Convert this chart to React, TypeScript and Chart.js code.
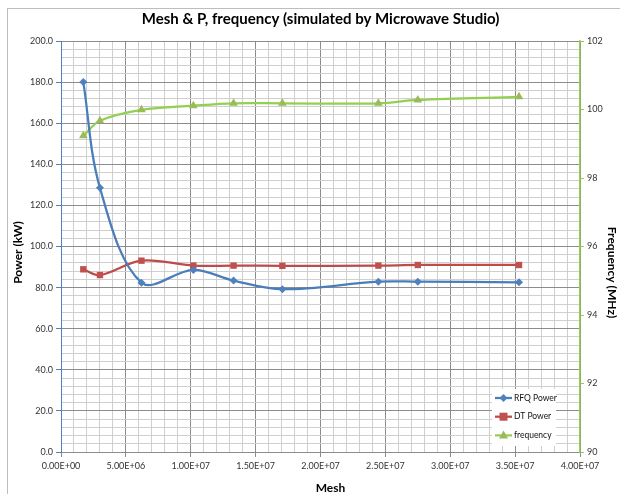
import { useEffect, useRef } from "react";
import { Chart, registerables } from "chart.js";

Chart.register(...registerables);

const TITLE = "Mesh & P, frequency (simulated by Microwave Studio)";
const X_TITLE = "Mesh";
const Y_TITLE = "Power (kW)";
const Y2_TITLE = "Frequency (MHz)";

const mesh = [1.72e6, 3.0e6, 6.2e6, 10.2e6, 13.3e6, 17.06e6, 24.46e6, 27.5e6, 35.3e6];
const rfqPower = [180, 128.6, 82.4, 88.6, 83.4, 79.2, 82.9, 82.9, 82.6];
const dtPower = [88.9, 86.1, 93.1, 90.7, 90.7, 90.6, 90.7, 91.0, 91.0];
const frequency = [99.23, 99.67, 99.99, 100.11, 100.18, 100.18, 100.18, 100.28, 100.37];

const seriesNames = ["RFQ Power", "DT Power", "frequency"];

const FONT = "Lato, 'Open Sans', sans-serif";
const MAJOR = "#8C8C8C";
const MINOR = "#CFCFCF";
const BLUE = "#4A7EBB";
const BLUE_M = "#4F81BD";
const RED = "#BE4B48";
const RED_M = "#C0504D";
const GREEN = "#92D050";
const GREEN_M = "#9BBB59";

function fmtE(v: number): string {
  const r = Math.round(v);
  if (r === 0) return "0.00E+00";
  const e = Math.floor(Math.log10(r) + 1e-9);
  const m = r / Math.pow(10, e);
  return m.toFixed(2) + "E+" + String(e).padStart(2, "0");
}

function drawMarker(ctx: CanvasRenderingContext2D, kind: string, x: number, y: number, color: string) {
  ctx.fillStyle = color;
  ctx.beginPath();
  if (kind === "diamond") {
    const r = 4;
    ctx.moveTo(x, y - r);
    ctx.lineTo(x + r, y);
    ctx.lineTo(x, y + r);
    ctx.lineTo(x - r, y);
  } else if (kind === "square") {
    ctx.rect(x - 4, y - 4, 8, 8);
  } else {
    const r = 5;
    ctx.moveTo(x, y - r);
    ctx.lineTo(x + r * 0.9, y + r * 0.6);
    ctx.lineTo(x - r * 0.9, y + r * 0.6);
  }
  ctx.closePath();
  ctx.fill();
}

const decor = {
  id: "decor",
  afterDatasetsDraw(chart: any) {
    const ctx: CanvasRenderingContext2D = chart.ctx;
    const a = chart.chartArea;
    ctx.save();
    const bx = a.right - 88;
    const by = a.bottom - 63;
    ctx.fillStyle = "#FFFFFF";
    ctx.fillRect(bx, by, 64, 57);
    const items = [
      { name: seriesNames[0], line: BLUE, mk: BLUE_M, kind: "diamond" },
      { name: seriesNames[1], line: RED, mk: RED_M, kind: "square" },
      { name: seriesNames[2], line: GREEN, mk: GREEN_M, kind: "triangle" },
    ];
    ctx.font = `8.5px ${FONT}`;
    ctx.textBaseline = "middle";
    ctx.textAlign = "left";
    items.forEach((it, i) => {
      const y = by + 9 + i * 18.7;
      ctx.strokeStyle = it.line;
      ctx.lineWidth = 2.25;
      ctx.beginPath();
      ctx.moveTo(bx + 3, y);
      ctx.lineTo(bx + 20, y);
      ctx.stroke();
      drawMarker(ctx, it.kind, bx + 11.5, y, it.mk);
      ctx.fillStyle = "#111";
      ctx.fillText(it.name, bx + 22, y);
    });
    ctx.restore();
  },
  afterDraw(chart: any) {
    const ctx: CanvasRenderingContext2D = chart.ctx;
    const a = chart.chartArea;
    ctx.save();
    ctx.fillStyle = "#000";
    ctx.textAlign = "center";
    ctx.textBaseline = "middle";
    ctx.font = `bold 15px ${FONT}`;
    ctx.fillText(TITLE, (a.left + a.right) / 2, 19);
    ctx.font = `bold 12px ${FONT}`;
    ctx.fillText(X_TITLE, (a.left + a.right) / 2 + 10, 488);
    ctx.save();
    ctx.translate(18, (a.top + a.bottom) / 2 + 6);
    ctx.rotate(-Math.PI / 2);
    ctx.fillText(Y_TITLE, 0, 0);
    ctx.restore();
    ctx.save();
    ctx.translate(612, (a.top + a.bottom) / 2 + 26);
    ctx.rotate(Math.PI / 2);
    ctx.fillText(Y2_TITLE, 0, 0);
    ctx.restore();
    ctx.restore();
  },
};

export default function App() {
  const ref = useRef<HTMLCanvasElement | null>(null);
  useEffect(() => {
    if (!ref.current) return;
    const pts = (ys: number[]) => mesh.map((x, i) => ({ x, y: ys[i] }));
    const chart = new Chart(ref.current, {
      type: "scatter",
      data: {
        datasets: [
          {
            label: seriesNames[0],
            data: pts(rfqPower),
            showLine: true,
            borderColor: BLUE,
            backgroundColor: BLUE_M,
            borderWidth: 2.25,
            pointStyle: "rectRot",
            pointRadius: 4,
            pointBorderWidth: 0,
            tension: 0.35,
            yAxisID: "y",
          },
          {
            label: seriesNames[1],
            data: pts(dtPower),
            showLine: true,
            borderColor: RED,
            backgroundColor: RED_M,
            borderWidth: 2.25,
            pointStyle: "rect",
            pointRadius: 4.5,
            pointBorderWidth: 0,
            tension: 0.35,
            yAxisID: "y",
          },
          {
            label: seriesNames[2],
            data: pts(frequency),
            showLine: true,
            borderColor: GREEN,
            backgroundColor: GREEN_M,
            borderWidth: 2.25,
            pointStyle: "triangle",
            pointRadius: 5,
            pointBorderWidth: 0,
            tension: 0.35,
            yAxisID: "y2",
          },
        ] as any,
      },
      options: {
        animation: false,
        responsive: false,
        layout: { padding: { top: 41, left: 0, right: 0, bottom: 0 } },
        plugins: {
          legend: { display: false },
          title: { display: false },
          tooltip: { enabled: false },
        },
        scales: {
          x: {
            type: "linear",
            min: 0,
            max: 4e7,
            afterFit: (s: any) => {
              s.height = 46;
            },
            ticks: {
              stepSize: 1e6,
              autoSkip: false,
              maxRotation: 0,
              padding: 4,
              color: "#333",
              font: { family: FONT, size: 9 },
              callback: (v: any) => (Math.round(Number(v) / 1e6) % 5 === 0 ? fmtE(Number(v)) : ""),
            },
            grid: {
              color: (c: any) => (Math.round(c.tick.value / 1e6) % 5 === 0 ? MAJOR : MINOR),
              tickColor: (c: any) => (Math.round(c.tick.value / 1e6) % 5 === 0 ? MAJOR : "rgba(0,0,0,0)"),
              tickLength: 5,
            },
            border: { color: MAJOR, width: 1 },
          },
          y: {
            type: "linear",
            position: "left",
            min: 0,
            max: 200,
            afterFit: (s: any) => {
              s.width = 61;
            },
            ticks: {
              stepSize: 4,
              autoSkip: false,
              padding: 3,
              color: "#333",
              font: { family: FONT, size: 9 },
              callback: (v: any) => (Math.round(Number(v)) % 20 === 0 ? Number(v).toFixed(1) : ""),
            },
            grid: {
              color: (c: any) => (Math.round(c.tick.value) % 20 === 0 ? MAJOR : MINOR),
              tickColor: (c: any) => (Math.round(c.tick.value) % 20 === 0 ? BLUE_M : "rgba(0,0,0,0)"),
              tickLength: 5,
            },
            border: { color: BLUE_M, width: 1 },
          },
          y2: {
            type: "linear",
            position: "right",
            min: 90,
            max: 102,
            afterFit: (s: any) => {
              s.width = 40;
            },
            ticks: {
              stepSize: 2,
              padding: 3,
              color: "#333",
              font: { family: FONT, size: 9 },
            },
            grid: {
              drawOnChartArea: false,
              tickColor: GREEN,
              tickLength: 4,
            },
            border: { color: GREEN, width: 1.5 },
          },
        },
      } as any,
      plugins: [decor],
    });
    return () => chart.destroy();
  }, []);
  return (
    <div style={{ position: "absolute", left: 0, top: 0, width: 620, height: 498, background: "#fff", overflow: "hidden" }}>
      <div style={{ position: "absolute", left: 7, top: 8, width: 700, height: 485, borderLeft: "1px solid #BDBDBD", borderTop: "1px solid #BDBDBD" }} />
      <canvas ref={ref} width={620} height={498} style={{ position: "absolute", left: 0, top: 0 }} />
    </div>
  );
}
